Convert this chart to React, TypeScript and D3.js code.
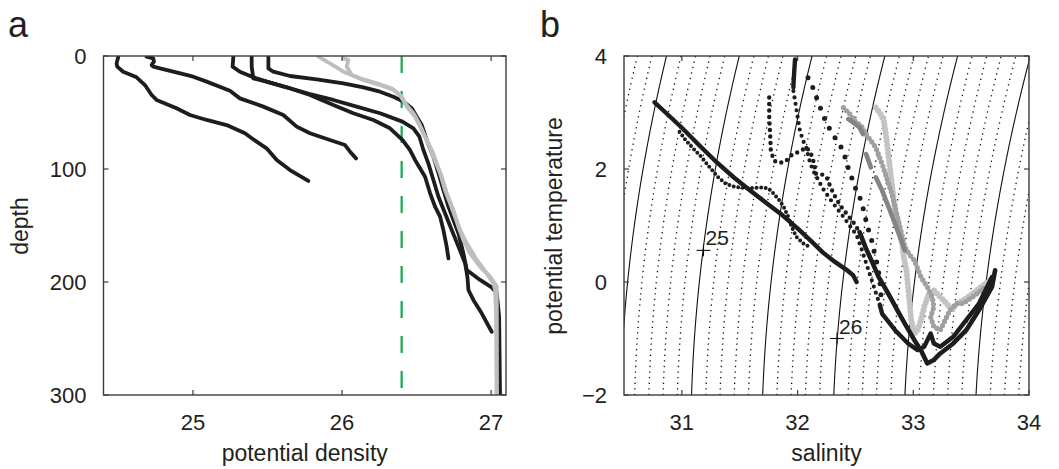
import React from "react";
import * as d3 from "d3";

type P = [number, number];

// ---------------- Panel a : [potential density, depth] ----------------
const densityTicks = [25, 26, 27];
const depthTicks = [0, 100, 200, 300];
const mixedLayerDensity = 26.4;

const profileBlack1: P[] = [
  [24.499, 0.6], [24.488, 6.5], [24.492, 9.4], [24.532, 13.9], [24.622, 18.9], [24.678, 25.7],
  [24.723, 34.5], [24.756, 38.9], [24.89, 46.3], [24.98, 52.2], [25.092, 56.6], [25.226, 61.1],
  [25.349, 68.4], [25.427, 75.8], [25.494, 81.7], [25.562, 92.0], [25.651, 100.9], [25.774, 110.6],
];
const profileBlack2: P[] = [
  [24.689, 0.6], [24.734, 2.1], [24.738, 5.0], [24.723, 8.0], [24.734, 9.4], [24.779, 10.9],
  [24.868, 13.9], [25.002, 18.3], [25.092, 22.7], [25.248, 30.7], [25.315, 37.5], [25.472, 44.8],
  [25.606, 52.2], [25.696, 62.5], [25.785, 68.4], [25.919, 74.3], [26.02, 78.8], [26.054, 84.7],
  [26.094, 90.6],
];
const profileBlack3: P[] = [
  [25.271, 0.6], [25.266, 9.4], [25.315, 13.9], [25.405, 18.9], [25.494, 22.7], [25.629, 27.7],
  [25.785, 34.5], [25.942, 43.4], [26.076, 50.7], [26.21, 56.6], [26.322, 64.0], [26.405, 74.3],
  [26.456, 83.2], [26.49, 92.0], [26.523, 99.4], [26.557, 106.8], [26.591, 121.5], [26.624, 133.3],
  [26.658, 142.2], [26.68, 154.0], [26.702, 168.7], [26.714, 179.1],
];
const profileBlack4: P[] = [
  [25.394, 0.6], [25.394, 9.4], [25.405, 19.8], [25.494, 22.7], [25.629, 27.7], [25.785, 33.6],
  [25.942, 38.9], [26.098, 44.8], [26.255, 50.7], [26.405, 58.1], [26.479, 64.0], [26.519, 71.4],
  [26.546, 83.2], [26.579, 95.0], [26.613, 109.7], [26.647, 124.5], [26.691, 139.2], [26.736, 154.0],
  [26.781, 168.7], [26.826, 183.5], [26.841, 195.3], [26.848, 207.1], [26.881, 215.9], [26.937, 227.7],
  [27.004, 244.0],
];
const profileBlack5: P[] = [
  [25.506, 0.6], [25.506, 10.9], [25.539, 13.9], [25.651, 17.7], [25.83, 20.6], [26.009, 24.2],
  [26.143, 27.7], [26.255, 31.6], [26.345, 36.0], [26.412, 40.4], [26.468, 46.3], [26.501, 53.7],
  [26.535, 61.1], [26.568, 74.3], [26.613, 89.1], [26.647, 103.8], [26.68, 118.6], [26.714, 133.3],
  [26.747, 145.1], [26.781, 156.9], [26.814, 174.6], [26.837, 189.4], [26.926, 198.2], [27.004, 204.7],
  [27.038, 210.0], [27.054, 230.7], [27.06, 300],
];
const profileGray1: P[] = [
  [25.841, 0.6], [25.919, 6.5], [26.009, 13.9], [26.121, 19.8], [26.233, 24.2], [26.333, 28.6],
  [26.389, 34.5], [26.423, 41.9], [26.479, 50.7], [26.523, 61.1], [26.557, 71.4], [26.602, 83.2],
  [26.635, 95.0], [26.669, 106.8], [26.702, 121.5], [26.747, 136.3], [26.781, 151.0], [26.814, 162.8],
  [26.859, 174.6], [26.926, 186.4], [26.993, 195.3], [27.038, 204.1], [27.038, 245.4], [27.038, 300],
];
const profileGray2: P[] = [
  [26.009, 2.1], [26.043, 3.5], [26.031, 9.4], [26.065, 16.8], [26.143, 21.2], [26.255, 25.7],
  [26.345, 30.1], [26.4, 36.0], [26.434, 44.8], [26.49, 53.7], [26.535, 65.5], [26.579, 77.3],
  [26.613, 89.1], [26.658, 103.8], [26.691, 118.6], [26.725, 130.4], [26.758, 142.2], [26.792, 154.0],
  [26.837, 165.8], [26.904, 180.5], [26.971, 192.3], [27.016, 201.2], [27.027, 207.1], [27.034, 230.7],
  [27.038, 300],
];

// ---------------- Panel b : [salinity, potential temperature] ----------------
const salinityTicks = [31, 32, 33, 34];
const temperatureTicks = [-2, 0, 2, 4];
const isopycnalLevels = d3.range(240, 276).map((v) => v / 10);
const isopycnalLabels = [
  { level: "25", s: 31.187, t: 0.56 },
  { level: "26", s: 32.341, t: -1.0 },
];

const tsLineA: P[] = [
  [30.764, 3.18], [30.88, 2.96], [31.0, 2.73], [31.15, 2.42], [31.3, 2.12], [31.45, 1.85],
  [31.59, 1.62], [31.73, 1.4], [31.87, 1.18], [32.0, 0.95], [32.12, 0.72], [32.22, 0.52],
  [32.32, 0.36], [32.42, 0.22], [32.48, 0.12], [32.51, 0.0],
];
const tsDotsB: P[] = [
  [30.98, 2.66], [31.03, 2.52], [31.09, 2.38], [31.17, 2.21], [31.24, 2.03], [31.31, 1.86],
  [31.38, 1.74], [31.46, 1.68], [31.55, 1.665], [31.64, 1.665], [31.7, 1.675], [31.75, 1.65],
  [31.79, 1.57], [31.84, 1.45], [31.88, 1.33], [31.92, 1.15], [31.95, 0.97], [31.99, 0.8],
  [32.05, 0.68], [32.12, 0.6],
];
const tsDenseCtop: P[] = [[31.978, 3.94], [31.972, 3.75], [31.966, 3.55], [31.964, 3.44]];
const tsDotsC: P[] = [
  [31.964, 3.38], [31.978, 3.21], [31.992, 3.03], [32.006, 2.85], [32.02, 2.68], [32.048, 2.5],
  [32.076, 2.38], [32.09, 2.25], [32.11, 2.1], [32.14, 1.95], [32.18, 1.8], [32.22, 1.65],
  [32.27, 1.5], [32.33, 1.33], [32.39, 1.17], [32.45, 1.0], [32.51, 0.83], [32.55, 0.6],
  [32.59, 0.35], [32.63, 0.1], [32.67, -0.15], [32.71, -0.4],
];
const tsDenseCbottom: P[] = [
  [32.71, -0.4], [32.73, -0.558], [32.843, -0.853], [32.955, -1.088], [33.038, -1.206],
  [33.094, -1.147], [33.15, -0.912], [33.178, -1.088], [33.233, -1.147], [33.345, -0.971],
  [33.457, -0.676], [33.568, -0.382], [33.68, 0.088],
];
const tsDotsD: P[] = [
  [31.755, 3.265], [31.755, 3.09], [31.755, 2.91], [31.76, 2.73], [31.764, 2.56], [31.769, 2.32],
  [31.797, 2.147], [31.839, 2.106], [31.895, 2.129], [31.951, 2.253], [32.02, 2.312], [32.076, 2.382],
  [32.112, 2.294], [32.14, 2.118], [32.16, 1.912], [32.216, 1.9], [32.252, 1.853], [32.285, 1.677],
  [32.327, 1.5], [32.369, 1.353], [32.425, 1.206], [32.481, 1.059], [32.536, 0.883],
];
const tsDenseDbottom: P[] = [
  [32.536, 0.883], [32.59, 0.6], [32.65, 0.33], [32.7, 0.09], [32.76, -0.12], [32.815, -0.32],
  [32.87, -0.53], [32.927, -0.735], [33.01, -1.03], [33.066, -1.21], [33.12, -1.44], [33.178, -1.38],
  [33.233, -1.265], [33.345, -1.088], [33.457, -0.853], [33.567, -0.5], [33.68, -0.088], [33.707, 0.206],
];
const tsSparseE: P[] = [
  [32.09, 3.617], [32.132, 3.44], [32.174, 3.206], [32.229, 2.912], [32.285, 2.676], [32.341, 2.5],
  [32.396, 2.324], [32.425, 2.089], [32.467, 1.853], [32.508, 1.618], [32.55, 1.441], [32.578, 1.206],
  [32.605, 0.97], [32.634, 0.794], [32.66, 0.55], [32.69, 0.3], [32.71, 0.05], [32.72, -0.2], [32.72, -0.35],
];
const tsLightGray: P[] = [
  [32.676, 3.088], [32.718, 2.971], [32.745, 2.853], [32.759, 2.676], [32.773, 2.441], [32.787, 2.206],
  [32.801, 1.971], [32.815, 1.735], [32.829, 1.5], [32.843, 1.265], [32.871, 1.029], [32.899, 0.794],
  [32.913, 0.5], [32.941, 0.206], [32.955, -0.088], [32.969, -0.382], [32.982, -0.676], [33.01, -0.912],
  [33.038, -0.853], [33.066, -0.676], [33.094, -0.441], [33.136, -0.206], [33.178, -0.147], [33.233, -0.265],
  [33.289, -0.382], [33.331, -0.5], [33.373, -0.382], [33.457, -0.294], [33.568, -0.118], [33.68, 0.059],
];
const tsMidGray: P[] = [
  [32.396, 3.088], [32.452, 2.971], [32.494, 2.853], [32.55, 2.765], [32.592, 2.618], [32.634, 2.5],
  [32.676, 2.382], [32.703, 2.235], [32.731, 2.088], [32.759, 1.912], [32.787, 1.735], [32.815, 1.559],
  [32.843, 1.324], [32.871, 1.088], [32.899, 0.853], [32.927, 0.618], [32.98, 0.45], [33.01, 0.382],
  [33.066, 0.088], [33.122, -0.088], [33.164, -0.265], [33.178, -0.441], [33.15, -0.618], [33.178, -0.794],
  [33.233, -0.853], [33.275, -0.676], [33.317, -0.5], [33.373, -0.382], [33.429, -0.382], [33.513, -0.265],
  [33.624, -0.088],
];
const tsDarkGray1: P[] = [[32.438, 2.882], [32.48, 2.824], [32.536, 2.735], [32.564, 2.618]];
const tsDarkGray2: P[] = [[32.592, 2.265], [32.634, 2.029]];
const tsDarkGray3: P[] = [
  [32.676, 1.853], [32.731, 1.618], [32.787, 1.324], [32.843, 1.029], [32.885, 0.794], [32.927, 0.559],
];

// UNESCO EOS-80 surface density (sigma-theta) for the isopycnal background
function sigmaTheta(S: number, T: number): number {
  const rw = 999.842594 + 6.793952e-2 * T - 9.09529e-3 * T ** 2 + 1.001685e-4 * T ** 3 - 1.120083e-6 * T ** 4 + 6.536332e-9 * T ** 5;
  const B = 8.24493e-1 - 4.0899e-3 * T + 7.6438e-5 * T ** 2 - 8.2467e-7 * T ** 3 + 5.3875e-9 * T ** 4;
  const C = -5.72466e-3 + 1.0227e-4 * T - 1.6546e-6 * T ** 2;
  const D = 4.8314e-4;
  return rw + B * S + C * Math.pow(S, 1.5) + D * S * S - 1000;
}
function salinityFor(level: number, T: number): number {
  let lo = 20, hi = 42;
  for (let i = 0; i < 60; i++) {
    const mid = (lo + hi) / 2;
    if (sigmaTheta(mid, T) < level) lo = mid; else hi = mid;
  }
  return (lo + hi) / 2;
}

const FONT = "'Liberation Sans', Arial, Helvetica, sans-serif";
const INK = "#231f20";
const AXIS = "#3c3c3c";
const BLACK = "#1d1d1d";

export default function App() {
  const W = 1059, H = 469;
  const AL = 103.5, AR = 506, BL = 624, BR = 1029, TOP = 56, BOT = 395;
  const xA = d3.scaleLinear().domain([24.4, 27.1]).range([AL, AR]);
  const yA = d3.scaleLinear().domain([0, 300]).range([TOP, BOT]);
  const xB = d3.scaleLinear().domain([30.5, 34]).range([BL, BR]);
  const yB = d3.scaleLinear().domain([-2, 4]).range([BOT, TOP]);

  const lineA = d3.line<P>().x((d) => xA(d[0])).y((d) => yA(d[1]));
  const lineB = d3.line<P>().x((d) => xB(d[0])).y((d) => yB(d[1]));

  const tempSamples = d3.range(-22, 43).map((v) => v / 10);
  const isopycnals = isopycnalLevels.map((lv) => ({
    lv,
    solid: Math.round(lv * 10) % 5 === 0,
    pts: tempSamples.map((t) => [salinityFor(lv, t), t] as P),
  }));

  const tickLen = 5;
  const fs = 22;

  const frame = (
    x: d3.ScaleLinear<number, number>,
    y: d3.ScaleLinear<number, number>,
    xt: number[],
    yt: number[],
    key: string
  ) => {
    const [x0, x1] = x.range();
    const yb = Math.max(...y.range());
    const yt0 = Math.min(...y.range());
    return (
      <g key={key}>
        <rect x={x0} y={yt0} width={x1 - x0} height={yb - yt0} fill="none" stroke={AXIS} strokeWidth={1.4} />
        {xt.map((v) => (
          <g key={"xt" + v}>
            <line x1={x(v)} x2={x(v)} y1={yb} y2={yb - tickLen} stroke={AXIS} strokeWidth={1.2} />
            <line x1={x(v)} x2={x(v)} y1={yt0} y2={yt0 + tickLen} stroke={AXIS} strokeWidth={1.2} />
          </g>
        ))}
        {yt.map((v) => (
          <g key={"yt" + v}>
            <line x1={x0} x2={x0 + tickLen} y1={y(v)} y2={y(v)} stroke={AXIS} strokeWidth={1.2} />
            <line x1={x1} x2={x1 - tickLen} y1={y(v)} y2={y(v)} stroke={AXIS} strokeWidth={1.2} />
          </g>
        ))}
        {xt.map((v) => (
          <text key={"xl" + v} x={x(v)} y={yb + 35} textAnchor="middle" fontSize={fs} fontFamily={FONT} fill={INK}>
            {v}
          </text>
        ))}
        {yt.map((v) => (
          <text key={"yl" + v} x={x0 - 17} y={y(v)} dy="0.36em" textAnchor="end" fontSize={fs} fontFamily={FONT} fill={INK}>
            {v < 0 ? "\u2212" + Math.abs(v) : v}
          </text>
        ))}
      </g>
    );
  };

  const blackProfiles = [profileBlack1, profileBlack2, profileBlack3, profileBlack4, profileBlack5];
  const grayProfiles = [profileGray1, profileGray2];

  return (
    <svg width={W} height={H} style={{ position: "absolute", left: 0, top: 0, background: "#fff" }}>
      <defs>
        <clipPath id="clipB">
          <rect x={BL} y={TOP} width={BR - BL} height={BOT - TOP} />
        </clipPath>
        <clipPath id="clipA">
          <rect x={AL} y={TOP} width={AR - AL} height={BOT - TOP} />
        </clipPath>
      </defs>
      <rect x={0} y={0} width={W} height={H} fill="#fff" />

      {/* ---------- Panel a ---------- */}
      <g clipPath="url(#clipA)">
        <line
          x1={xA(mixedLayerDensity)} x2={xA(mixedLayerDensity)} y1={yA(0)} y2={yA(300)}
          stroke="#12a84e" strokeWidth={2.2} strokeDasharray="17 18"
        />
        {blackProfiles.map((p, i) => (
          <path key={"bp" + i} d={lineA(p) || ""} fill="none" stroke={BLACK} strokeWidth={3.8} strokeLinejoin="round" strokeLinecap="round" />
        ))}
        {grayProfiles.map((p, i) => (
          <path key={"gp" + i} d={lineA(p) || ""} fill="none" stroke="#bcbec0" strokeWidth={3.9} strokeLinejoin="round" strokeLinecap="round" />
        ))}
      </g>
      {frame(xA, yA, densityTicks, depthTicks, "fa")}
      <text x={(AL + AR) / 2} y={461} textAnchor="middle" fontSize={23} fontFamily={FONT} fill={INK}>potential density</text>
      <text transform="translate(28,226) rotate(-90)" textAnchor="middle" fontSize={23} fontFamily={FONT} fill={INK}>depth</text>
      <text x={8} y={37} fontSize={36} fontFamily={FONT} fill={INK}>a</text>

      {/* ---------- Panel b ---------- */}
      <g clipPath="url(#clipB)">
        {isopycnals.map((c) => (
          <path
            key={"iso" + c.lv}
            d={lineB(c.pts) || ""}
            fill="none"
            stroke="#111"
            strokeWidth={c.solid ? 1.1 : 1.3}
            strokeDasharray={c.solid ? undefined : "1.3 4.3"}
          />
        ))}
        <path d={lineB(tsLightGray) || ""} fill="none" stroke="#c3c3c3" strokeWidth={6} strokeLinecap="round" strokeDasharray="0 4" />
        <path d={lineB(tsMidGray) || ""} fill="none" stroke="#a0a0a0" strokeWidth={5.2} strokeLinecap="round" strokeDasharray="0 4.5" />
        {[tsDarkGray1, tsDarkGray2, tsDarkGray3].map((s, i) => (
          <path key={"dg" + i} d={lineB(s) || ""} fill="none" stroke="#848484" strokeWidth={4.6} strokeLinecap="round" strokeLinejoin="round" />
        ))}
        <path d={lineB(tsLineA) || ""} fill="none" stroke={BLACK} strokeWidth={4.4} strokeLinecap="round" strokeLinejoin="round" />
        <path d={lineB(tsDotsB) || ""} fill="none" stroke={BLACK} strokeWidth={4} strokeLinecap="round" strokeDasharray="0 4.6" />
        <path d={lineB(tsDenseCtop) || ""} fill="none" stroke={BLACK} strokeWidth={4.4} strokeLinecap="round" />
        <path d={lineB(tsDotsC) || ""} fill="none" stroke={BLACK} strokeWidth={4.2} strokeLinecap="round" strokeDasharray="0 6.5" />
        <path d={lineB(tsDenseCbottom) || ""} fill="none" stroke={BLACK} strokeWidth={4.4} strokeLinecap="round" strokeLinejoin="round" />
        <path d={lineB(tsDotsD) || ""} fill="none" stroke={BLACK} strokeWidth={4.4} strokeLinecap="round" strokeDasharray="0 6.5" />
        <path d={lineB(tsDenseDbottom) || ""} fill="none" stroke={BLACK} strokeWidth={4.6} strokeLinecap="round" strokeLinejoin="round" />
        <path d={lineB(tsSparseE) || ""} fill="none" stroke={BLACK} strokeWidth={5} strokeLinecap="round" strokeDasharray="0 11" />
        {isopycnalLabels.map((l) => (
          <g key={"lab" + l.level}>
            <line x1={xB(l.s) - 7} x2={xB(l.s) + 7} y1={yB(l.t)} y2={yB(l.t)} stroke="#111" strokeWidth={1.1} />
            <line x1={xB(l.s)} x2={xB(l.s)} y1={yB(l.t) - 6} y2={yB(l.t) + 6} stroke="#111" strokeWidth={1.1} />
            <text x={xB(l.s) + 2} y={yB(l.t) - 5} fontSize={21} fontFamily={FONT} fill={INK}>{l.level}</text>
          </g>
        ))}
      </g>
      {frame(xB, yB, salinityTicks, temperatureTicks, "fb")}
      <text x={(BL + BR) / 2} y={461} textAnchor="middle" fontSize={23} fontFamily={FONT} fill={INK}>salinity</text>
      <text transform="translate(562,226) rotate(-90)" textAnchor="middle" fontSize={23} fontFamily={FONT} fill={INK}>potential temperature</text>
      <text x={540} y={37} fontSize={36} fontFamily={FONT} fill={INK}>b</text>
    </svg>
  );
}
